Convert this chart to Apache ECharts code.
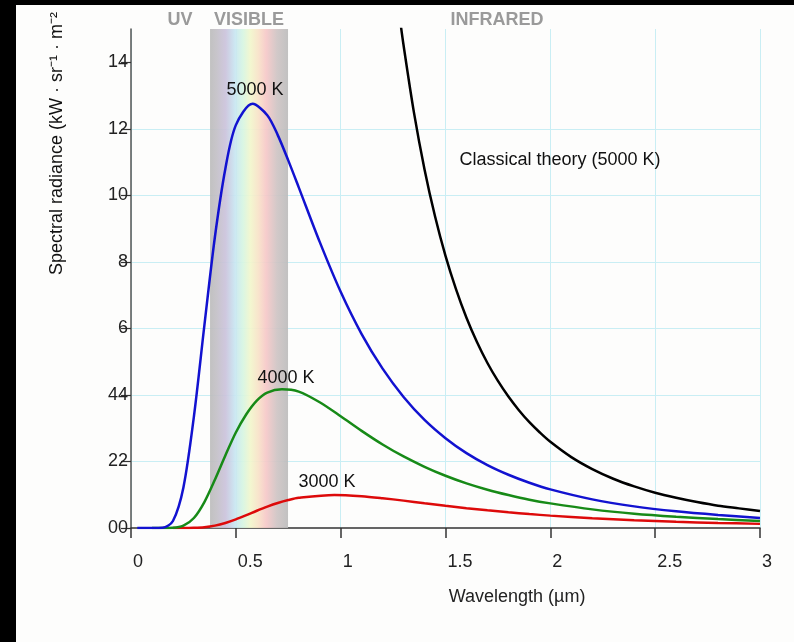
<!DOCTYPE html>
<html>
<head>
<meta charset="utf-8">
<script src="https://cdn.jsdelivr.net/npm/echarts@6/dist/echarts.min.js"></script>
<style>
  html, body { margin: 0; padding: 0; background: #fdfdfc; }
  #main { width: 794px; height: 642px; }
</style>
</head>
<body>
<div id="main"></div>
<script>
// 5000 K curve: wavelength (um) and spectral radiance
var lambda5000 = [0.03, 0.1, 0.15, 0.2, 0.25, 0.3, 0.35, 0.4, 0.45, 0.5, 0.58, 0.65, 0.7, 0.75, 0.8,
  0.9, 1.0, 1.1, 1.2, 1.3, 1.4, 1.5, 1.6, 1.7, 1.8, 1.9, 2.0, 2.2, 2.4, 2.6, 2.8, 3.0];
var t5000 = [0, 0, 0.007, 0.21, 1.22, 3.35, 6.09, 8.74, 10.80, 12.11, 12.75, 12.41, 11.81, 11.05, 10.24,
  8.60, 7.10, 5.83, 4.79, 3.94, 3.25, 2.70, 2.25, 1.89, 1.60, 1.36, 1.16, 0.86, 0.65, 0.50, 0.39, 0.30];
// 4000 K curve
var lambda4000 = [0.1, 0.15, 0.2, 0.25, 0.3, 0.35, 0.4, 0.45, 0.5, 0.55, 0.6, 0.65, 0.72, 0.8,
  0.9, 1.0, 1.1, 1.2, 1.3, 1.4, 1.5, 1.6, 1.7, 1.8, 1.9, 2.0, 2.2, 2.4, 2.6, 2.8, 3.0];
var t4000 = [0, 0, 0.006, 0.07, 0.30, 0.78, 1.45, 2.18, 2.87, 3.42, 3.83, 4.07, 4.17, 4.10,
  3.78, 3.36, 2.92, 2.51, 2.15, 1.84, 1.57, 1.34, 1.15, 0.99, 0.85, 0.74, 0.56, 0.43, 0.34, 0.27, 0.21];
// 3000 K curve
var lambda3000 = [0.2, 0.25, 0.3, 0.35, 0.4, 0.45, 0.5, 0.55, 0.6, 0.65, 0.7, 0.75, 0.8, 0.97,
  1.1, 1.2, 1.3, 1.4, 1.5, 1.6, 1.7, 1.8, 1.9, 2.0, 2.2, 2.4, 2.6, 2.8, 3.0];
var t3000 = [0, 0, 0.006, 0.025, 0.072, 0.152, 0.26, 0.386, 0.518, 0.642, 0.751, 0.840, 0.908, 0.995,
  0.957, 0.896, 0.823, 0.744, 0.668, 0.597, 0.531, 0.472, 0.419, 0.372, 0.295, 0.235, 0.188, 0.152, 0.124];
// classical theory (5000 K)
var classicalLambda = [1.28, 1.3, 1.35, 1.4, 1.45, 1.5, 1.55, 1.6, 1.65, 1.7, 1.75, 1.8, 1.85, 1.9, 1.95, 2.0,
  2.1, 2.2, 2.3, 2.4, 2.5, 2.6, 2.7, 2.8, 2.9, 3.0];
var classical = [15.43, 14.51, 12.47, 10.78, 9.37, 8.18, 7.18, 6.32, 5.59, 4.96, 4.42, 3.95, 3.54, 3.18, 2.87, 2.59,
  2.13, 1.77, 1.48, 1.25, 1.06, 0.91, 0.78, 0.67, 0.59, 0.51];

var yTickValues = [0, 2, 4, 6, 8, 10, 12, 14];
var yTickLabels = ['00', '22', '44', '6', '8', '10', '12', '14'];
var visibleBand = [0.377, 0.749];

function pairs(xs, ys) {
  var out = [];
  for (var i = 0; i < xs.length; i++) out.push([xs[i], ys[i]]);
  return out;
}

var FONT = '"Liberation Sans", Arial, sans-serif';
var chart = echarts.init(document.getElementById('main'));

function curve(name, color, xs, ys, extra) {
  var s = {
    name: name,
    type: 'line',
    data: pairs(xs, ys),
    smooth: 0.3,
    showSymbol: false,
    clip: true,
    lineStyle: { color: color, width: 2.5 },
    itemStyle: { color: color }
  };
  if (extra) Object.assign(s, extra);
  return s;
}

var option = {
  animation: false,
  backgroundColor: '#fdfdfc',
  grid: { left: 131, right: 34, top: 29, bottom: 114 },
  xAxis: {
    type: 'value',
    min: 0, max: 3, interval: 0.5,
    axisLine: { lineStyle: { color: '#333', width: 1.5 } },
    axisTick: { length: 10, lineStyle: { color: '#333', width: 1.5 } },
    axisLabel: {
      margin: 25, align: 'left', color: '#222', fontSize: 18, fontFamily: FONT,
      padding: [0, 0, 0, 2]
    },
    splitLine: { show: true, lineStyle: { color: '#c9eef4', width: 1 } }
  },
  yAxis: {
    type: 'value',
    min: 0, max: 15, interval: 2,
    axisLine: { show: true, lineStyle: { color: '#555', width: 1.5 } },
    axisTick: { show: true, length: 10, customValues: yTickValues, lineStyle: { color: '#333', width: 1.2 } },
    axisLabel: {
      margin: 3, color: '#222', fontSize: 18, fontFamily: FONT,
      customValues: yTickValues,
      formatter: function (v) { return yTickLabels[yTickValues.indexOf(v)]; }
    },
    splitLine: { show: true, showMinLine: false, showMaxLine: false, lineStyle: { color: '#c9eef4', width: 1 } }
  },
  series: [
    curve('Classical theory (5000 K)', '#000000', classicalLambda, classical, {
      markArea: {
        silent: true,
        itemStyle: {
          opacity: 0.92,
          color: {
            type: 'linear', x: 0, y: 0, x2: 1, y2: 0,
            colorStops: [
              { offset: 0, color: '#bcbcbc' },
              { offset: 0.08, color: '#c3c0c6' },
              { offset: 0.2, color: '#cbc3dc' },
              { offset: 0.32, color: '#c8e6f2' },
              { offset: 0.42, color: '#d6f5e2' },
              { offset: 0.52, color: '#f2f6cc' },
              { offset: 0.62, color: '#f8e2c8' },
              { offset: 0.72, color: '#f6c8c8' },
              { offset: 0.86, color: '#cec4c4' },
              { offset: 1, color: '#bcbcbc' }
            ]
          }
        },
        data: [[{ xAxis: visibleBand[0], yAxis: 0 }, { xAxis: visibleBand[1], yAxis: 15 }]]
      }
    }),
    curve('3000 K', '#dd0a0a', lambda3000, t3000),
    curve('4000 K', '#178a17', lambda4000, t4000),
    curve('5000 K', '#1212d0', lambda5000, t5000)
  ],
  graphic: [
    { type: 'text', x: 57, y: 275, rotation: Math.PI / 2,
      style: { text: 'Spectral radiance (kW · sr⁻¹ · m⁻² · nm⁻¹)', font: '18px ' + FONT, fill: '#111',
        align: 'left', verticalAlign: 'middle' } },
    { type: 'text', x: 180, y: 20, style: { text: 'UV', font: 'bold 18px ' + FONT, fill: '#9a9a9a', align: 'center', verticalAlign: 'middle' } },
    { type: 'text', x: 249, y: 20, style: { text: 'VISIBLE', font: 'bold 18px ' + FONT, fill: '#9a9a9a', align: 'center', verticalAlign: 'middle' } },
    { type: 'text', x: 497, y: 20, style: { text: 'INFRARED', font: 'bold 18px ' + FONT, fill: '#9a9a9a', align: 'center', verticalAlign: 'middle' } },
    { type: 'text', x: 255, y: 90, z: 10, style: { text: '5000 K', font: '18px ' + FONT, fill: '#111', align: 'center', verticalAlign: 'middle' } },
    { type: 'text', x: 286, y: 378, z: 10, style: { text: '4000 K', font: '18px ' + FONT, fill: '#111', align: 'center', verticalAlign: 'middle' } },
    { type: 'text', x: 327, y: 482, z: 10, style: { text: '3000 K', font: '18px ' + FONT, fill: '#111', align: 'center', verticalAlign: 'middle' } },
    { type: 'text', x: 560, y: 160, z: 10, style: { text: 'Classical theory (5000 K)', font: '18px ' + FONT, fill: '#111', align: 'center', verticalAlign: 'middle' } },
    { type: 'text', x: 517, y: 597, style: { text: 'Wavelength (µm)', font: '18px ' + FONT, fill: '#222', align: 'center', verticalAlign: 'middle' } },
    // black frame of the captured image
    { type: 'rect', z: 100, shape: { x: 0, y: 0, width: 794, height: 5 }, style: { fill: '#000' } },
    { type: 'rect', z: 100, shape: { x: 0, y: 0, width: 16, height: 642 }, style: { fill: '#000' } }
  ]
};

chart.setOption(option);
</script>
</body>
</html>
